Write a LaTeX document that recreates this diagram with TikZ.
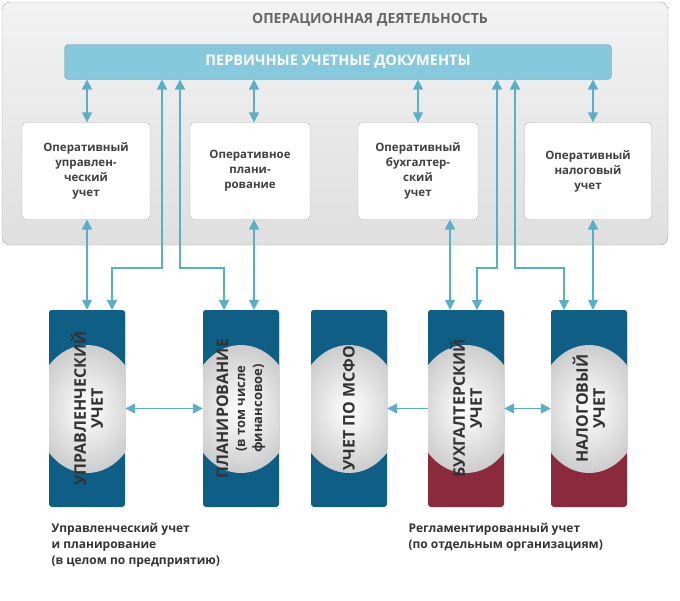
\documentclass[tikz,border=0pt]{standalone}
\usepackage{fontspec}
\setmainfont{Open Sans}
\usetikzlibrary{arrows.meta}
\definecolor{arr}{HTML}{5AAFC8}
\definecolor{colblue}{HTML}{0E5E86}
\definecolor{colred}{HTML}{8A2A3C}
\definecolor{barblue}{HTML}{86C9DC}
\tikzset{
  link/.style={arr, line width=1.5pt, -{Triangle[width=10pt,length=10pt]}},
  dlink/.style={link, {Triangle[width=10pt,length=10pt]}-{Triangle[width=10pt,length=10pt]}},
  opbox/.style={draw=gray!60, fill=white, rounded corners=4pt, minimum width=120pt, minimum height=97pt, align=center, font=\bfseries\fontsize{11.5}{15}\selectfont, text=black!75},
  coltext/.style={rotate=90, align=center, font=\bfseries\fontsize{16}{17}\selectfont, text=black!80},
  note/.style={anchor=north west, align=left, font=\bfseries\fontsize{12}{16}\selectfont, text=black!80}
}
\begin{document}
\begin{tikzpicture}[x=1pt, y=-1pt]
\useasboundingbox (0,0) rectangle (680,600);
%top area
	\draw[gray!70, top color=gray!10, bottom color=gray!25, rounded corners=8pt] (2,2) rectangle (668,245);
	\node[font=\bfseries\fontsize{14}{16}\selectfont, text=black!60] (title) at (370,20) {ОПЕРАЦИОННАЯ ДЕЯТЕЛЬНОСТЬ};
	\node[fill=barblue, draw=barblue!80!black, rounded corners=4pt, minimum width=547pt, minimum height=35pt, font=\bfseries\fontsize{14.5}{16}\selectfont, text=white] (docs) at (338,62) {ПЕРВИЧНЫЕ УЧЕТНЫЕ ДОКУМЕНТЫ};

	\node[opbox, minimum width=128pt] (b1) at (86,171) {Оперативный\\управлен-\\ческий\\учет};
	\node[opbox] (b2) at (250,171) {Оперативное\\плани-\\рование};
	\node[opbox] (b3) at (418,171) {Оперативный\\бухгалтер-\\ский\\учет};
	\node[opbox, minimum width=127pt] (b4) at (588,171) {Оперативный\\налоговый\\учет};

%columns
	\foreach \n/\x/\lo/\txt in {c1/87/colblue/{УПРАВЛЕНЧЕСКИЙ\\УЧЕТ}, c2/241/colblue/{ПЛАНИРОВАНИЕ\\{\fontsize{13}{15}\selectfont(в том числе}\\{\fontsize{13}{15}\selectfont финансовое)}}, c3/349/colblue/{УЧЕТ ПО МСФО}, c4/466/colred/{БУХГАЛТЕРСКИЙ\\УЧЕТ}, c5/589/colred/{НАЛОГОВЫЙ\\УЧЕТ}}{
		\fill[\lo, rounded corners=3pt] (\x-38,310) rectangle (\x+38,507);
		\fill[colblue, rounded corners=3pt] (\x-38,310) rectangle (\x+38,453);
		\begin{scope}
			\clip (\x-38,310) rectangle (\x+38,507);
			\shade[inner color=white, outer color=gray!40] (\x,409) ellipse (52pt and 64pt);
		\end{scope}
		\node[coltext, minimum width=197pt, minimum height=76pt] (\n) at (\x,408.5) {\txt};
	}

%links
	\coordinate (d1) at (162,79.5); \coordinate (d2) at (180,79.5);
	\coordinate (d3) at (497,79.5); \coordinate (d4) at (515,79.5);
	\draw[dlink] (b1.north -| 87,0) -- (87,79.5);
	\draw[dlink] (b2.north -| 254,0) -- (254,79.5);
	\draw[dlink] (b3.north) -- (b3.north |- docs.south);
	\draw[dlink] (b4.north -| 593,0) -- (593,79.5);

	\draw[dlink] (87,219.5) -- (c1.east -| 87,0);
	\draw[dlink] (254,219.5) -- (c2.east -| 254,0);
	\draw[dlink] (450,219.5) -- (c4.east -| 450,0);
	\draw[dlink] (593,219.5) -- (c5.east -| 593,0);

	\draw[dlink] (112,310) -- (112,268) -- (162,268) -- (d1);
	\draw[dlink] (224,310) -- (224,268) -- (180,268) -- (d2);
	\draw[dlink] (477,310) -- (477,268) -- (497,268) -- (d3);
	\draw[dlink] (564,310) -- (564,268) -- (515,268) -- (d4);

	\draw[dlink] (c1.south) -- (c2.north);
	\draw[link] (c4.north) -- (c3.south);
	\draw[dlink] (c4.south) -- (c5.north);

%notes
	\node[note] (n1) at (48,520) {Управленческий учет\\и планирование\\(в целом по предприятию)};
	\node[note] (n2) at (405,520) {Регламентированный учет\\(по отдельным организациям)};
\end{tikzpicture}
\end{document}
